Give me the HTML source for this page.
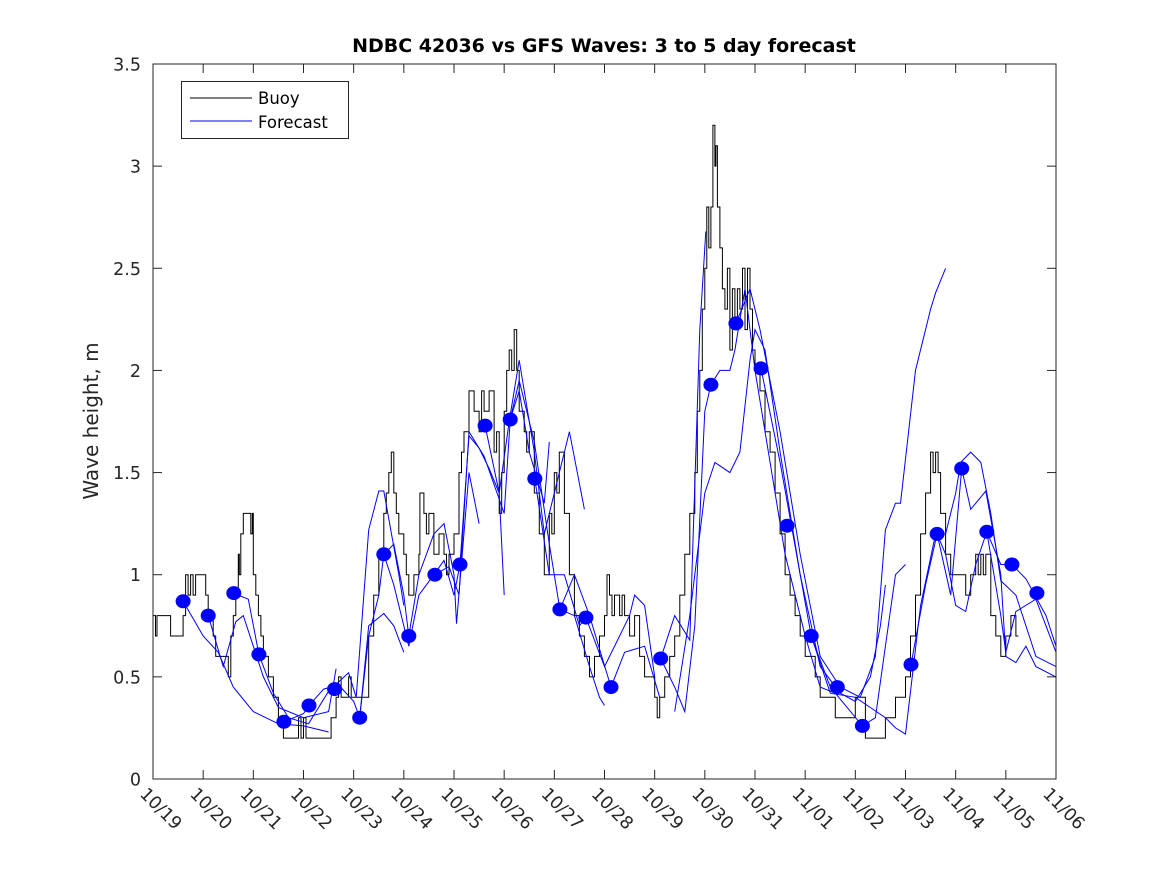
<!DOCTYPE html>
<html><head><meta charset="utf-8"><style>
body{margin:0;background:#fff;}
svg{display:block;font-family:"DejaVu Sans","Liberation Sans",sans-serif;}
</style></head><body>
<svg id="chart" width="1167" height="875" viewBox="0 0 1167 875" xmlns="http://www.w3.org/2000/svg">
<rect x="0" y="0" width="1167" height="875" fill="#fff"/>
<text x="604" y="52" text-anchor="middle" font-size="19" font-weight="bold" fill="#000">NDBC 42036 vs GFS Waves: 3 to 5 day forecast</text>
<text transform="translate(98,421) rotate(-90)" text-anchor="middle" font-size="20" fill="#262626">Wave height, m</text>
<g id="plot"></g>
<g id="axes"></g>
<g>
<rect x="181.5" y="81.5" width="167" height="57" fill="#fff" stroke="#262626" stroke-width="1"/>
<line x1="190" y1="98" x2="252" y2="98" stroke="#000" stroke-width="1"/>
<text x="258" y="104" font-size="16.5" fill="#000">Buoy</text>
<line x1="190" y1="121" x2="252" y2="121" stroke="#0000ff" stroke-width="1"/>
<text x="258" y="128" font-size="16.5" fill="#000">Forecast</text>
</g>
</svg>
<script>
const xTickLabels = ["10/19","10/20","10/21","10/22","10/23","10/24","10/25","10/26","10/27","10/28","10/29","10/30","10/31","11/01","11/02","11/03","11/04","11/05","11/06"];
const yTickValues = [0,0.5,1,1.5,2,2.5,3,3.5];
const yTickLabels = ["0","0.5","1","1.5","2","2.5","3","3.5"];

const buoyDays = [0,0.05,0.08,0.3,0.35,0.55,0.6,0.65,0.7,0.75,0.8,0.85,1.0,1.05,1.1,1.2,1.25,1.3,1.5,1.55,1.6,1.65,1.7,1.72,1.75,1.8,1.95,1.98,2.0,2.05,2.1,2.15,2.2,2.3,2.4,2.5,2.6,2.9,2.95,3.0,3.05,3.2,3.55,3.65,3.7,3.75,3.8,3.9,3.95,4.05,4.3,4.4,4.5,4.6,4.65,4.7,4.75,4.8,4.85,4.9,5.0,5.05,5.1,5.2,5.3,5.32,5.4,5.45,5.5,5.6,5.7,5.8,5.85,5.9,6.0,6.1,6.15,6.2,6.3,6.4,6.5,6.55,6.6,6.7,6.8,6.85,6.9,6.95,7.0,7.05,7.1,7.15,7.2,7.25,7.3,7.4,7.45,7.5,7.6,7.7,7.8,7.9,7.95,8.0,8.05,8.1,8.2,8.3,8.4,8.5,8.6,8.7,8.8,8.9,9.0,9.05,9.1,9.15,9.2,9.3,9.35,9.4,9.5,9.6,9.7,9.8,9.9,10.0,10.05,10.1,10.2,10.3,10.4,10.5,10.6,10.7,10.8,10.85,10.9,10.95,11.0,11.04,11.08,11.12,11.16,11.2,11.22,11.25,11.3,11.35,11.4,11.45,11.5,11.55,11.6,11.65,11.7,11.75,11.8,11.85,11.9,11.95,12.0,12.1,12.2,12.3,12.4,12.5,12.6,12.7,12.8,12.9,13.0,13.1,13.2,13.3,13.5,13.6,13.8,14.0,14.2,14.6,14.7,14.8,15.0,15.1,15.2,15.3,15.4,15.5,15.55,15.6,15.65,15.7,15.8,15.9,16.0,16.2,16.3,16.4,16.45,16.5,16.55,16.6,16.7,16.8,16.9,17.0,17.1,17.2];
const buoyValues = [0.8,0.7,0.8,0.8,0.7,0.7,0.8,1.0,0.9,1.0,0.9,1.0,1.0,0.9,0.8,0.7,0.6,0.6,0.5,0.7,0.8,0.9,1.1,1.0,1.2,1.3,1.2,1.3,1.0,0.9,0.8,0.7,0.6,0.5,0.4,0.3,0.2,0.3,0.2,0.3,0.2,0.2,0.3,0.4,0.5,0.4,0.4,0.5,0.4,0.4,0.7,0.9,1.1,1.3,1.4,1.5,1.6,1.4,1.3,1.2,1.1,1.0,0.9,1.0,1.1,1.4,1.3,1.2,1.3,1.1,1.2,1.1,1.0,1.1,1.2,1.5,1.6,1.7,1.9,1.8,1.7,1.9,1.8,1.9,1.6,1.7,1.3,1.5,1.8,2.0,2.1,2.0,2.2,2.0,1.8,1.7,1.6,1.7,1.4,1.2,1.0,1.3,1.2,1.5,1.4,1.6,1.3,1.0,0.8,0.7,0.6,0.5,0.6,0.7,0.8,1.0,0.9,0.8,0.9,0.8,0.9,0.8,0.7,0.8,0.6,0.5,0.5,0.4,0.3,0.4,0.5,0.6,0.7,0.9,1.1,1.3,1.5,1.8,2.0,2.3,2.5,2.8,2.6,2.8,3.2,3.0,3.1,2.8,2.6,2.4,2.3,2.5,2.1,2.4,2.2,2.4,2.3,2.5,2.2,2.5,2.3,2.1,2.0,1.9,1.7,1.6,1.4,1.2,1.0,0.9,0.8,0.7,0.6,0.6,0.5,0.4,0.4,0.3,0.3,0.4,0.2,0.3,0.3,0.4,0.5,0.7,0.9,1.2,1.4,1.6,1.5,1.6,1.5,1.3,1.1,1.0,1.0,0.9,1.0,1.1,1.0,1.1,1.0,1.1,0.8,0.7,0.6,0.7,0.8,0.7];

const fcDays = [
 [0.6,1.0,1.3,1.6,2.0,2.5,3.0,3.5],
 [1.1,1.4,1.65,1.8,2.2,2.5,3.0,3.5,3.65],
 [1.6,1.9,2.11,2.4,2.7,3.1,3.5,3.9,4.05,4.3,4.5,4.6,4.9,5.0],
 [2.61,3.0,3.11,3.4,3.7,4.0,4.12,4.3,4.5,4.6,4.8,5.0,5.1,5.3,5.6,5.8,6.0,6.05,6.3,6.5],
 [4.12,4.3,4.6,4.8,5.0],
 [4.6,4.8,5.1,5.3,5.6,5.8,6.0,6.12,6.3,6.5,6.7,6.9,7.0],
 [5.62,5.9,6.1,6.3,6.6,7.0,7.12,7.3,7.5,7.8,7.9],
 [6.62,6.9,7.1,7.3,7.6,7.8,8.1,8.3,8.6],
 [7.12,7.3,7.6,7.9,8.11,8.4,8.7,8.9,9.0],
 [7.61,7.9,8.2,8.5,8.63,9.0,9.3,9.5,9.6,9.8,10.0],
 [8.11,8.4,8.7,9.13,9.4,9.8,10.1],
 [10.12,10.4,10.7,10.9,11.02],
 [10.12,10.4,10.6,10.8,11.0,11.12,11.3,11.5,11.6,11.8,12.0,12.3,12.6,13.0,13.3,13.6],
 [10.4,10.7,11.0,11.2,11.5,11.7,11.9,12.0,12.2,12.5,12.9,13.3,13.7,14.0,14.3,14.5,14.6],
 [11.62,11.9,12.1,12.5,12.9,13.3,13.7,14.1,14.4,14.6,14.8,14.9,15.2,15.5,15.6,15.8],
 [12.12,12.5,12.9,13.12,13.5,14.0,14.3,14.6,14.8,15.0,15.3,15.6,15.8,16.0,16.1,16.3,16.5,16.7,16.9,17.2,17.6,18.0],
 [13.12,13.5,14.14,14.4,14.6,14.8,15.0],
 [15.11,15.4,15.63,15.9,16.12,16.3,16.6,16.9,17.0,17.2,17.4,17.6,18.0],
 [15.63,15.8,16.0,16.2,16.4,16.62,16.9,17.0,17.2,17.6,18.0],
 [16.62,16.9,17.12,17.4,17.8,18.0]
];
const fcValues = [
 [0.87,0.7,0.62,0.45,0.33,0.27,0.26,0.23],
 [0.8,0.55,0.77,0.8,0.5,0.35,0.3,0.33,0.54],
 [0.91,0.88,0.61,0.42,0.3,0.27,0.43,0.52,0.4,1.22,1.41,1.41,1.0,0.85],
 [0.28,0.32,0.36,0.44,0.46,0.38,0.3,0.7,0.9,1.1,1.15,0.9,0.7,1.0,1.2,1.25,1.0,0.76,1.5,1.25],
 [0.3,0.75,0.81,0.75,0.62],
 [1.1,0.95,0.65,0.9,1.0,1.07,0.9,1.05,1.68,1.62,1.52,1.4,0.9],
 [1.0,1.04,0.9,1.7,1.58,1.3,1.76,1.9,1.6,1.35,1.65],
 [1.73,1.4,1.75,2.05,1.6,1.2,1.5,1.7,1.32],
 [1.76,1.95,1.65,1.15,0.83,0.8,0.55,0.4,0.36],
 [1.47,1.0,1.0,0.75,0.79,0.55,0.7,0.8,0.9,0.85,0.5],
 [0.83,1.0,0.8,0.45,0.62,0.65,0.4],
 [0.59,0.8,0.68,2.2,2.68],
 [0.59,0.45,0.33,0.75,1.8,1.93,2.0,2.0,2.1,2.4,2.0,1.55,1.1,0.7,0.45,0.42],
 [0.33,0.8,1.4,1.55,1.5,1.6,2.05,2.2,2.1,1.6,1.0,0.55,0.42,0.38,0.5,0.75,0.95],
 [2.23,2.4,2.2,1.7,1.1,0.6,0.45,0.4,0.6,1.22,1.35,1.35,2.0,2.3,2.38,2.5],
 [2.01,1.55,1.0,0.7,0.42,0.4,0.35,0.3,0.25,0.22,0.85,1.2,1.2,1.4,1.55,1.6,1.55,1.3,0.97,0.9,0.6,0.55],
 [0.7,0.45,0.26,0.3,0.65,1.0,1.05],
 [0.56,0.95,1.2,0.9,1.52,1.32,1.41,1.0,0.6,0.57,0.65,0.55,0.5],
 [1.2,1.1,0.85,0.82,1.05,1.21,0.8,0.62,0.82,0.88,0.62],
 [1.21,1.05,1.05,0.98,0.8,0.65]
];
const dotDays = [0.6,1.1,1.61,2.11,2.61,3.11,3.62,4.12,4.6,5.1,5.62,6.12,6.62,7.12,7.61,8.11,8.63,9.13,10.12,11.12,11.62,12.12,12.64,13.12,13.64,14.14,15.11,15.63,16.12,16.62,17.12,17.62];
const dotValues = [0.87,0.80,0.91,0.61,0.28,0.36,0.44,0.30,1.10,0.70,1.00,1.05,1.73,1.76,1.47,0.83,0.79,0.45,0.59,1.93,2.23,2.01,1.24,0.70,0.45,0.26,0.56,1.20,1.52,1.21,1.05,0.91];

const X0=153, X1=1056, Y0=779, Y1=64, DMAX=18, VMAX=3.5;
function xs(d){return X0+(X1-X0)*d/DMAX;}
function ys(v){return Y0-(Y0-Y1)*v/VMAX;}
const NS="http://www.w3.org/2000/svg";
function mk(tag,attrs,parent){const e=document.createElementNS(NS,tag);for(const k in attrs)e.setAttribute(k,attrs[k]);parent.appendChild(e);return e;}
const plot=document.getElementById('plot'), axes=document.getElementById('axes');

let d="M"+xs(buoyDays[0]).toFixed(1)+","+ys(buoyValues[0]).toFixed(1);
for(let i=1;i<buoyDays.length;i++){d+=" L"+xs(buoyDays[i]).toFixed(1)+","+ys(buoyValues[i-1]).toFixed(1)+" L"+xs(buoyDays[i]).toFixed(1)+","+ys(buoyValues[i]).toFixed(1);}
d+=" L"+xs(buoyDays[buoyDays.length-1]+0.05).toFixed(1)+","+ys(buoyValues[buoyValues.length-1]).toFixed(1);
const bl=mk('path',{d:d,fill:'none',stroke:'#000','stroke-width':1},plot);



for(let s=0;s<fcDays.length;s++){
  let p=fcDays[s].map((t,i)=>xs(t).toFixed(1)+","+ys(fcValues[s][i]).toFixed(1)).join(" ");
  const pl=mk('polyline',{points:p,fill:'none',stroke:'#0000ff','stroke-width':1},plot);
  
  
}
for(let i=0;i<dotDays.length;i++){
  const c=mk('ellipse',{cx:xs(dotDays[i]).toFixed(1),cy:ys(dotValues[i]).toFixed(1),rx:7.5,ry:7,fill:'#0000ff'},plot);
  
  
}

const box=mk('rect',{x:X0,y:Y1,width:X1-X0,height:Y0-Y1,fill:'none',stroke:'#262626','stroke-width':1},axes);


for(let i=0;i<xTickLabels.length;i++){
  const x=xs(i);
  mk('line',{x1:x,y1:Y0,x2:x,y2:Y0-9,stroke:'#262626','stroke-width':1},axes);
  mk('line',{x1:x,y1:Y1,x2:x,y2:Y1+9,stroke:'#262626','stroke-width':1},axes);
  const t=mk('text',{x:0,y:0,transform:'translate('+(x-14)+',795) rotate(45)','font-size':17.5,fill:'#262626'},axes);
  t.textContent=xTickLabels[i];
  
  
}
for(let i=0;i<yTickValues.length;i++){
  const y=ys(yTickValues[i]);
  mk('line',{x1:X0,y1:y,x2:X0+9,y2:y,stroke:'#262626','stroke-width':1},axes);
  mk('line',{x1:X1,y1:y,x2:X1-9,y2:y,stroke:'#262626','stroke-width':1},axes);
  const t=mk('text',{x:X0-12,y:y+6.5,'text-anchor':'end','font-size':17.5,fill:'#262626'},axes);
  t.textContent=yTickLabels[i];
  
  
}
</script>
</body></html>
